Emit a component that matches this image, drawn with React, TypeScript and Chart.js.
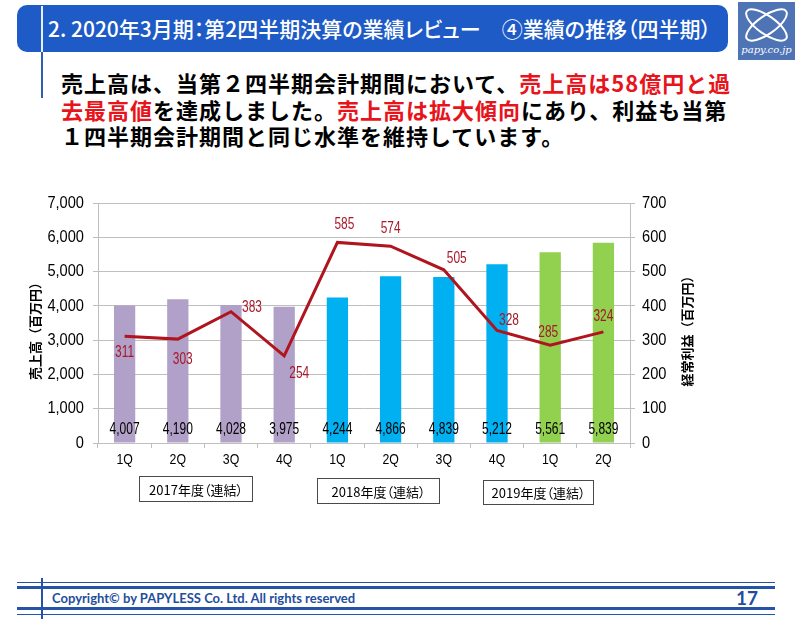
import React, { useEffect, useRef } from 'react';
import { Chart, registerables } from 'chart.js';

Chart.register(...registerables);

// ---- data ----
const quarters = ['1Q', '2Q', '3Q', '4Q', '1Q', '2Q', '3Q', '4Q', '1Q', '2Q'];
const fiscalYears = ['2017年度（連結）', '2018年度（連結）', '2019年度（連結）'];
const yearIndexOfQuarter = [0, 0, 0, 0, 1, 1, 1, 1, 2, 2];
const sales = [4007, 4190, 4028, 3975, 4244, 4866, 4839, 5212, 5561, 5839];
const ordinaryProfit = [311, 303, 383, 254, 585, 574, 505, 328, 285, 324];
const salesTicks = [0, 1000, 2000, 3000, 4000, 5000, 6000, 7000];
const profitTicks = [0, 100, 200, 300, 400, 500, 600, 700];
const salesAxisTitle = '売上高（百万円）';
const profitAxisTitle = '経常利益（百万円）';

// ---- styles ----
const yearColors = ['#b1a0c7', '#00b0f0', '#92d050'];
const lineColor = '#b0141e';
const lineLabelColor = '#a8182a';
const gridColor = '#bfbfbf';
const numFont = '"Liberation Sans", Arial, sans-serif';
const jpFont = '"Noto Sans CJK JP", "Noto Sans", sans-serif';
// label offsets (text centre relative to point), pixels
const lineLabelOffsets: [number, number][] = [
  [0, 16], [5, 20], [21, -4], [15, 17], [7, -18], [0, -18], [13, -12], [12, -10], [-2, -13], [0, -16],
];

const fmt = (v: number) => v.toLocaleString('en-US');

function drawCondensed(ctx: CanvasRenderingContext2D, text: string, x: number, y: number, align: CanvasTextAlign, sx: number) {
  ctx.save();
  ctx.translate(x, y);
  ctx.scale(sx, 1);
  ctx.textAlign = align;
  ctx.textBaseline = 'middle';
  ctx.fillText(text, 0, 0);
  ctx.restore();
}

const labelPlugin = {
  id: 'customLabels',
  afterDatasetsDraw(chart: any) {
    const ctx = chart.ctx;
    ctx.save();
    // bar value labels
    const barMeta = chart.getDatasetMeta(0);
    ctx.fillStyle = '#000';
    ctx.font = `16px ${numFont}`;
    barMeta.data.forEach((el: any, i: number) => {
      drawCondensed(ctx, fmt(sales[i]), el.x, el.base - 13, 'center', 0.75);
    });
    // line labels
    const lineMeta = chart.getDatasetMeta(1);
    ctx.fillStyle = lineLabelColor;
    ctx.font = `17px ${numFont}`;
    lineMeta.data.forEach((el: any, i: number) => {
      const [dx, dy] = lineLabelOffsets[i];
      drawCondensed(ctx, fmt(ordinaryProfit[i]), el.x + dx, el.y + dy, 'center', 0.7);
    });
    ctx.restore();
  },
  afterDraw(chart: any) {
    const ctx = chart.ctx;
    const area = chart.chartArea;
    const ys = chart.scales.y;
    const y1s = chart.scales.y1;
    const xs = chart.scales.x;
    ctx.save();
    ctx.fillStyle = '#000';
    ctx.font = `17px ${numFont}`;
    salesTicks.forEach((v) => {
      drawCondensed(ctx, fmt(v), area.left - 14, ys.getPixelForValue(v), 'right', 0.86);
    });
    profitTicks.forEach((v) => {
      drawCondensed(ctx, fmt(v), area.right + 12, y1s.getPixelForValue(v), 'left', 0.86);
    });
    ctx.font = `15px ${numFont}`;
    quarters.forEach((q, i) => {
      drawCondensed(ctx, q, xs.getPixelForValue(i), area.bottom + 17, 'center', 0.82);
    });
    ctx.restore();

    const cy = (area.top + area.bottom) / 2 + 5;
    ctx.save();
    ctx.fillStyle = '#000';
    ctx.font = `bold 13px ${jpFont}`;
    ctx.textAlign = 'center';
    ctx.textBaseline = 'middle';
    ctx.translate(35, cy);
    ctx.rotate(-Math.PI / 2);
    ctx.fillText(salesAxisTitle, 0, 0);
    ctx.restore();
    ctx.save();
    ctx.fillStyle = '#000';
    ctx.font = `bold 13px ${jpFont}`;
    ctx.textAlign = 'center';
    ctx.textBaseline = 'middle';
    ctx.translate(687, cy);
    ctx.rotate(-Math.PI / 2);
    ctx.fillText(profitAxisTitle, 0, 0);
    ctx.restore();
  },
};

function ComboChart() {
  const ref = useRef<HTMLCanvasElement>(null);
  useEffect(() => {
    if (!ref.current) return;
    const chart = new Chart(ref.current, {
      type: 'bar',
      data: {
        labels: quarters,
        datasets: [
          {
            type: 'bar',
            data: sales,
            backgroundColor: yearIndexOfQuarter.map((y) => yearColors[y]),
            barPercentage: 0.8,
            categoryPercentage: 0.5,
            yAxisID: 'y',
            order: 2,
          } as any,
          {
            type: 'line',
            data: ordinaryProfit,
            borderColor: lineColor,
            borderWidth: 3,
            pointRadius: 0,
            tension: 0,
            yAxisID: 'y1',
            order: 1,
          } as any,
        ],
      },
      options: {
        animation: false,
        responsive: false,
        maintainAspectRatio: false,
        layout: { padding: { top: 23, left: 0, right: 0, bottom: 0 } },
        plugins: { legend: { display: false }, tooltip: { enabled: false } },
        scales: {
          x: {
            grid: { drawOnChartArea: false, drawTicks: true, tickLength: 5, color: gridColor, offset: true },
            border: { color: gridColor },
            ticks: { display: false },
            afterFit: (s: any) => { s.height = 37; },
          },
          y: {
            position: 'left',
            min: 0,
            max: 7000,
            ticks: { stepSize: 1000, display: false },
            grid: { color: gridColor, tickLength: 5 },
            border: { color: gridColor },
            afterFit: (s: any) => { s.width = 98; },
          },
          y1: {
            position: 'right',
            min: 0,
            max: 700,
            ticks: { stepSize: 100, display: false },
            grid: { drawOnChartArea: false, color: gridColor, tickLength: 5 },
            border: { color: gridColor },
            afterFit: (s: any) => { s.width = 90; },
          },
        },
      } as any,
      plugins: [labelPlugin],
    });
    return () => chart.destroy();
  }, []);
  return (
    <canvas
      ref={ref}
      width={720}
      height={300}
      style={{ position: 'absolute', left: 0, top: 180, width: 720, height: 300 }}
    />
  );
}

const red = { color: '#e8141c' };

export default function App() {
  const yearBoxes = [
    { left: 139, top: 476, width: 114, height: 26 },
    { left: 317, top: 478, width: 123, height: 26 },
    { left: 483, top: 480, width: 111, height: 25 },
  ];
  const titleLine: React.CSSProperties = {
    position: 'absolute',
    left: 61,
    whiteSpace: 'nowrap',
    fontFamily: jpFont,
    fontWeight: 700,
    fontSize: 22,
    lineHeight: '26px',
    letterSpacing: 1,
    color: '#000',
  };
  const blue = '#2553a8';
  return (
    <div style={{ position: 'absolute', left: 0, top: 0, width: 800, height: 619, background: '#fff', overflow: 'hidden' }}>
      {/* header bar */}
      <div style={{ position: 'absolute', left: 17, top: 5, width: 711, height: 47, background: '#1e5bc6', borderRadius: 10 }} />
      <div style={{ position: 'absolute', left: 41, top: 6, width: 2, height: 46, background: '#e8eefa' }} />
      <div style={{ position: 'absolute', left: 41, top: 52, width: 2, height: 46, background: '#2e5fb0' }} />
      <div
        style={{
          position: 'absolute', left: 48, top: 14, whiteSpace: 'nowrap', color: '#fff',
          fontFamily: jpFont, fontWeight: 500, fontSize: 21, lineHeight: '28px',
          fontFeatureSettings: '"palt"',
        }}
      >
        2. 2020年3月期：第2四半期決算の業績レビュー　④業績の推移（四半期）
      </div>
      {/* logo */}
      <svg style={{ position: 'absolute', left: 738, top: 2 }} width={57} height={58} viewBox="0 0 57 58">
        <rect x={0} y={0} width={57} height={58} fill="#4f74b5" />
        <ellipse cx={28.5} cy={23} rx={24} ry={9} fill="none" stroke="#fff" strokeWidth={2} transform="rotate(35 28.5 23)" />
        <ellipse cx={28.5} cy={23} rx={24} ry={9} fill="none" stroke="#fff" strokeWidth={2} transform="rotate(-35 28.5 23)" />
        <text x={28.5} y={51} fill="#fff" fontSize={10} fontStyle="italic" textAnchor="middle" fontFamily='"DejaVu Serif", "Liberation Serif", serif'>
          papy.co.jp
        </text>
      </svg>
      {/* title text */}
      <div style={{ ...titleLine, top: 69 }}>
        売上高は、当第２四半期会計期間において、<span style={red}>売上高は58億円と過</span>
      </div>
      <div style={{ ...titleLine, top: 96 }}>
        <span style={red}>去最高値</span>を達成しました。<span style={red}>売上高は拡大傾向</span>にあり、利益も当第
      </div>
      <div style={{ ...titleLine, top: 122 }}>１四半期会計期間と同じ水準を維持しています。</div>

      <ComboChart />

      {fiscalYears.map((label, i) => (
        <div
          key={label}
          style={{
            position: 'absolute', left: yearBoxes[i].left, top: yearBoxes[i].top,
            width: yearBoxes[i].width, height: yearBoxes[i].height, boxSizing: 'border-box',
            border: '1.5px solid #4a4a4a', display: 'flex', alignItems: 'center', justifyContent: 'center',
            fontFamily: jpFont, fontSize: 13, color: '#000', whiteSpace: 'nowrap',
            fontFeatureSettings: '"palt"',
          }}
        >
          {label}
        </div>
      ))}

      {/* footer */}
      <div style={{ position: 'absolute', left: 17, top: 582, width: 758, height: 1, background: blue }} />
      <div style={{ position: 'absolute', left: 17, top: 586, width: 758, height: 3, background: blue }} />
      <div style={{ position: 'absolute', left: 17, top: 607, width: 758, height: 3, background: blue }} />
      <div style={{ position: 'absolute', left: 17, top: 614, width: 758, height: 1, background: blue }} />
      <div style={{ position: 'absolute', left: 41, top: 578, width: 2, height: 41, background: blue }} />
      <div
        style={{
          position: 'absolute', left: 52, top: 590, whiteSpace: 'nowrap', color: '#1f4e9c',
          fontFamily: 'Lato, "Open Sans", sans-serif', fontWeight: 700, fontSize: 13, lineHeight: '16px',
        }}
      >
        Copyright© by PAPYLESS Co. Ltd. All rights reserved
      </div>
      <div
        style={{
          position: 'absolute', right: 42, top: 588, color: '#1f4e9c',
          fontFamily: 'Lato, "Open Sans", sans-serif', fontWeight: 700, fontSize: 19, lineHeight: '20px',
        }}
      >
        17
      </div>
    </div>
  );
}
